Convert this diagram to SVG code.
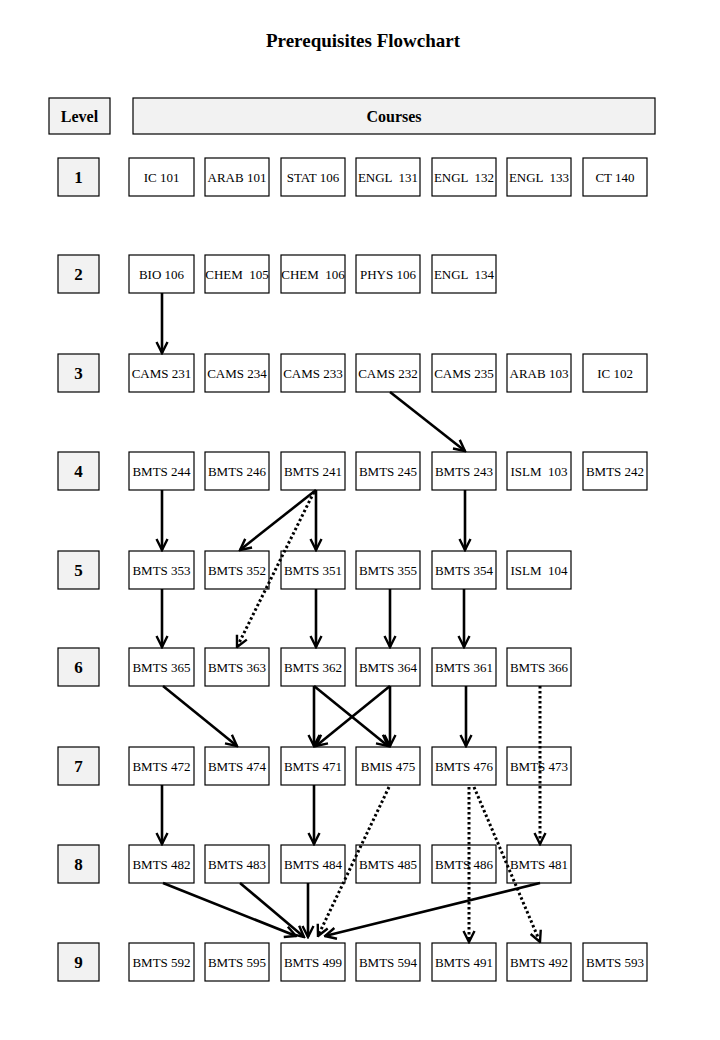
<svg xmlns="http://www.w3.org/2000/svg" width="720" height="1040" viewBox="0 0 720 1040">
<style>
text{font-family:"Liberation Serif","Times New Roman",serif;fill:#000;white-space:pre}
.c rect{fill:#fff;stroke:#000;stroke-width:1.2}
.c text{font-size:13px;text-anchor:middle}
.l rect{fill:#f2f2f2;stroke:#000;stroke-width:1.2}
.l text{font-size:17px;font-weight:bold;text-anchor:middle}
.h rect{fill:#f2f2f2;stroke:#000;stroke-width:1.2}
.h text{font-size:16px;font-weight:bold;text-anchor:middle}
.s{stroke:#000;stroke-width:2.6;fill:none;marker-end:url(#a)}
.d{stroke:#000;stroke-width:3;fill:none;stroke-dasharray:2.5 2.5;marker-end:url(#a)}
</style>
<defs>
<marker id="a" markerUnits="userSpaceOnUse" viewBox="0 0 14 14" refX="12.5" refY="7" markerWidth="14" markerHeight="14" orient="auto">
<path d="M1.5,1.5 L12.5,7 L1.5,12.5" fill="none" stroke="#000" stroke-width="2.4"/>
</marker>
</defs>
<rect width="720" height="1040" fill="#fff"/>
<text x="363" y="47" font-size="19" font-weight="bold" text-anchor="middle">Prerequisites Flowchart</text>
<g id="hdr-level" class="h"><rect x="49" y="98" width="61" height="36"/><text x="79.5" y="122">Level</text></g>
<g id="hdr-courses" class="h"><rect x="133" y="98" width="522" height="36"/><text x="394" y="122">Courses</text></g>

<g id="lv1" class="l"><rect x="58" y="158" width="41" height="38"/><text x="78.5" y="183">1</text></g>
<g id="lv2" class="l"><rect x="58" y="255" width="41" height="38"/><text x="78.5" y="280">2</text></g>
<g id="lv3" class="l"><rect x="58" y="354" width="41" height="38"/><text x="78.5" y="379">3</text></g>
<g id="lv4" class="l"><rect x="58" y="452" width="41" height="38"/><text x="78.5" y="477">4</text></g>
<g id="lv5" class="l"><rect x="58" y="551" width="41" height="38"/><text x="78.5" y="576">5</text></g>
<g id="lv6" class="l"><rect x="58" y="648" width="41" height="38"/><text x="78.5" y="673">6</text></g>
<g id="lv7" class="l"><rect x="58" y="747" width="41" height="38"/><text x="78.5" y="772">7</text></g>
<g id="lv8" class="l"><rect x="58" y="845" width="41" height="38"/><text x="78.5" y="870">8</text></g>
<g id="lv9" class="l"><rect x="58" y="943" width="41" height="38"/><text x="78.5" y="968">9</text></g>

<!-- Row 1 -->
<g id="ic101" class="c"><rect x="129" y="158" width="65" height="38"/><text x="161.5" y="182">IC 101</text></g>
<g id="arab101" class="c"><rect x="205" y="158" width="64" height="38"/><text x="237" y="182">ARAB 101</text></g>
<g id="stat106" class="c"><rect x="281" y="158" width="64" height="38"/><text x="313" y="182">STAT 106</text></g>
<g id="engl131" class="c"><rect x="356" y="158" width="64" height="38"/><text x="388" y="182">ENGL  131</text></g>
<g id="engl132" class="c"><rect x="432" y="158" width="64" height="38"/><text x="464" y="182">ENGL  132</text></g>
<g id="engl133" class="c"><rect x="507" y="158" width="64" height="38"/><text x="539" y="182">ENGL  133</text></g>
<g id="ct140" class="c"><rect x="583" y="158" width="64" height="38"/><text x="615" y="182">CT 140</text></g>
<!-- Row 2 -->
<g id="bio106" class="c"><rect x="129" y="255" width="65" height="38"/><text x="161.5" y="279">BIO 106</text></g>
<g id="chem105" class="c"><rect x="205" y="255" width="64" height="38"/><text x="237" y="279">CHEM  105</text></g>
<g id="chem106" class="c"><rect x="281" y="255" width="64" height="38"/><text x="313" y="279">CHEM  106</text></g>
<g id="phys106" class="c"><rect x="356" y="255" width="64" height="38"/><text x="388" y="279">PHYS 106</text></g>
<g id="engl134" class="c"><rect x="432" y="255" width="64" height="38"/><text x="464" y="279">ENGL  134</text></g>
<!-- Row 3 -->
<g id="cams231" class="c"><rect x="129" y="354" width="65" height="38"/><text x="161.5" y="378">CAMS 231</text></g>
<g id="cams234" class="c"><rect x="205" y="354" width="64" height="38"/><text x="237" y="378">CAMS 234</text></g>
<g id="cams233" class="c"><rect x="281" y="354" width="64" height="38"/><text x="313" y="378">CAMS 233</text></g>
<g id="cams232" class="c"><rect x="356" y="354" width="64" height="38"/><text x="388" y="378">CAMS 232</text></g>
<g id="cams235" class="c"><rect x="432" y="354" width="64" height="38"/><text x="464" y="378">CAMS 235</text></g>
<g id="arab103" class="c"><rect x="507" y="354" width="64" height="38"/><text x="539" y="378">ARAB 103</text></g>
<g id="ic102" class="c"><rect x="583" y="354" width="64" height="38"/><text x="615" y="378">IC 102</text></g>
<!-- Row 4 -->
<g id="bmts244" class="c"><rect x="129" y="452" width="65" height="38"/><text x="161.5" y="476">BMTS 244</text></g>
<g id="bmts246" class="c"><rect x="205" y="452" width="64" height="38"/><text x="237" y="476">BMTS 246</text></g>
<g id="bmts241" class="c"><rect x="281" y="452" width="64" height="38"/><text x="313" y="476">BMTS 241</text></g>
<g id="bmts245" class="c"><rect x="356" y="452" width="64" height="38"/><text x="388" y="476">BMTS 245</text></g>
<g id="bmts243" class="c"><rect x="432" y="452" width="64" height="38"/><text x="464" y="476">BMTS 243</text></g>
<g id="islm103" class="c"><rect x="507" y="452" width="64" height="38"/><text x="539" y="476">ISLM  103</text></g>
<g id="bmts242" class="c"><rect x="583" y="452" width="64" height="38"/><text x="615" y="476">BMTS 242</text></g>
<!-- Row 5 -->
<g id="bmts353" class="c"><rect x="129" y="551" width="65" height="38"/><text x="161.5" y="575">BMTS 353</text></g>
<g id="bmts352" class="c"><rect x="205" y="551" width="64" height="38"/><text x="237" y="575">BMTS 352</text></g>
<g id="bmts351" class="c"><rect x="281" y="551" width="64" height="38"/><text x="313" y="575">BMTS 351</text></g>
<g id="bmts355" class="c"><rect x="356" y="551" width="64" height="38"/><text x="388" y="575">BMTS 355</text></g>
<g id="bmts354" class="c"><rect x="432" y="551" width="64" height="38"/><text x="464" y="575">BMTS 354</text></g>
<g id="islm104" class="c"><rect x="507" y="551" width="64" height="38"/><text x="539" y="575">ISLM  104</text></g>
<!-- Row 6 -->
<g id="bmts365" class="c"><rect x="129" y="648" width="65" height="38"/><text x="161.5" y="672">BMTS 365</text></g>
<g id="bmts363" class="c"><rect x="205" y="648" width="64" height="38"/><text x="237" y="672">BMTS 363</text></g>
<g id="bmts362" class="c"><rect x="281" y="648" width="64" height="38"/><text x="313" y="672">BMTS 362</text></g>
<g id="bmts364" class="c"><rect x="356" y="648" width="64" height="38"/><text x="388" y="672">BMTS 364</text></g>
<g id="bmts361" class="c"><rect x="432" y="648" width="64" height="38"/><text x="464" y="672">BMTS 361</text></g>
<g id="bmts366" class="c"><rect x="507" y="648" width="64" height="38"/><text x="539" y="672">BMTS 366</text></g>
<!-- Row 7 -->
<g id="bmts472" class="c"><rect x="129" y="747" width="65" height="38"/><text x="161.5" y="771">BMTS 472</text></g>
<g id="bmts474" class="c"><rect x="205" y="747" width="64" height="38"/><text x="237" y="771">BMTS 474</text></g>
<g id="bmts471" class="c"><rect x="281" y="747" width="64" height="38"/><text x="313" y="771">BMTS 471</text></g>
<g id="bmis475" class="c"><rect x="356" y="747" width="64" height="38"/><text x="388" y="771">BMIS 475</text></g>
<g id="bmts476" class="c"><rect x="432" y="747" width="64" height="38"/><text x="464" y="771">BMTS 476</text></g>
<g id="bmts473" class="c"><rect x="507" y="747" width="64" height="38"/><text x="539" y="771">BMTS 473</text></g>
<!-- Row 8 -->
<g id="bmts482" class="c"><rect x="129" y="845" width="65" height="38"/><text x="161.5" y="869">BMTS 482</text></g>
<g id="bmts483" class="c"><rect x="205" y="845" width="64" height="38"/><text x="237" y="869">BMTS 483</text></g>
<g id="bmts484" class="c"><rect x="281" y="845" width="64" height="38"/><text x="313" y="869">BMTS 484</text></g>
<g id="bmts485" class="c"><rect x="356" y="845" width="64" height="38"/><text x="388" y="869">BMTS 485</text></g>
<g id="bmts486" class="c"><rect x="432" y="845" width="64" height="38"/><text x="464" y="869">BMTS 486</text></g>
<g id="bmts481" class="c"><rect x="507" y="845" width="64" height="38"/><text x="539" y="869">BMTS 481</text></g>
<!-- Row 9 -->
<g id="bmts592" class="c"><rect x="129" y="943" width="65" height="38"/><text x="161.5" y="967">BMTS 592</text></g>
<g id="bmts595" class="c"><rect x="205" y="943" width="64" height="38"/><text x="237" y="967">BMTS 595</text></g>
<g id="bmts499" class="c"><rect x="281" y="943" width="64" height="38"/><text x="313" y="967">BMTS 499</text></g>
<g id="bmts594" class="c"><rect x="356" y="943" width="64" height="38"/><text x="388" y="967">BMTS 594</text></g>
<g id="bmts491" class="c"><rect x="432" y="943" width="64" height="38"/><text x="464" y="967">BMTS 491</text></g>
<g id="bmts492" class="c"><rect x="507" y="943" width="64" height="38"/><text x="539" y="967">BMTS 492</text></g>
<g id="bmts593" class="c"><rect x="583" y="943" width="64" height="38"/><text x="615" y="967">BMTS 593</text></g>

<g id="connectors">
<line class="s" x1="162" y1="293" x2="162" y2="353"/>
<line class="s" x1="390" y1="392" x2="465" y2="451"/>
<line class="s" x1="162" y1="490" x2="162" y2="550"/>
<line class="s" x1="316" y1="490" x2="240" y2="550"/>
<line class="s" x1="316" y1="490" x2="316" y2="550"/>
<line class="d" x1="314" y1="492" x2="237" y2="647"/>
<line class="s" x1="465" y1="490" x2="465" y2="550"/>
<line class="s" x1="162" y1="589" x2="162" y2="647"/>
<line class="s" x1="316" y1="589" x2="316" y2="647"/>
<line class="s" x1="390" y1="589" x2="390" y2="647"/>
<line class="s" x1="464" y1="589" x2="464" y2="647"/>
<line class="s" x1="163" y1="686" x2="237" y2="746"/>
<line class="s" x1="314" y1="686" x2="314" y2="746"/>
<line class="s" x1="314" y1="686" x2="388" y2="746"/>
<line class="s" x1="390" y1="686" x2="316" y2="746"/>
<line class="s" x1="390" y1="686" x2="390" y2="746"/>
<line class="s" x1="466" y1="686" x2="466" y2="746"/>
<line class="d" x1="540" y1="686" x2="540" y2="844"/>
<line class="s" x1="162" y1="785" x2="162" y2="844"/>
<line class="s" x1="314" y1="785" x2="314" y2="844"/>
<line class="d" x1="389" y1="787" x2="318" y2="936"/>
<line class="d" x1="469" y1="787" x2="469" y2="942"/>
<line class="d" x1="474" y1="787" x2="540" y2="942"/>
<line class="s" x1="163" y1="883" x2="296" y2="936"/>
<line class="s" x1="240" y1="883" x2="304" y2="937"/>
<line class="s" x1="308" y1="883" x2="308" y2="937"/>
<line class="s" x1="540" y1="883" x2="325" y2="936"/>
</g>
</svg>
